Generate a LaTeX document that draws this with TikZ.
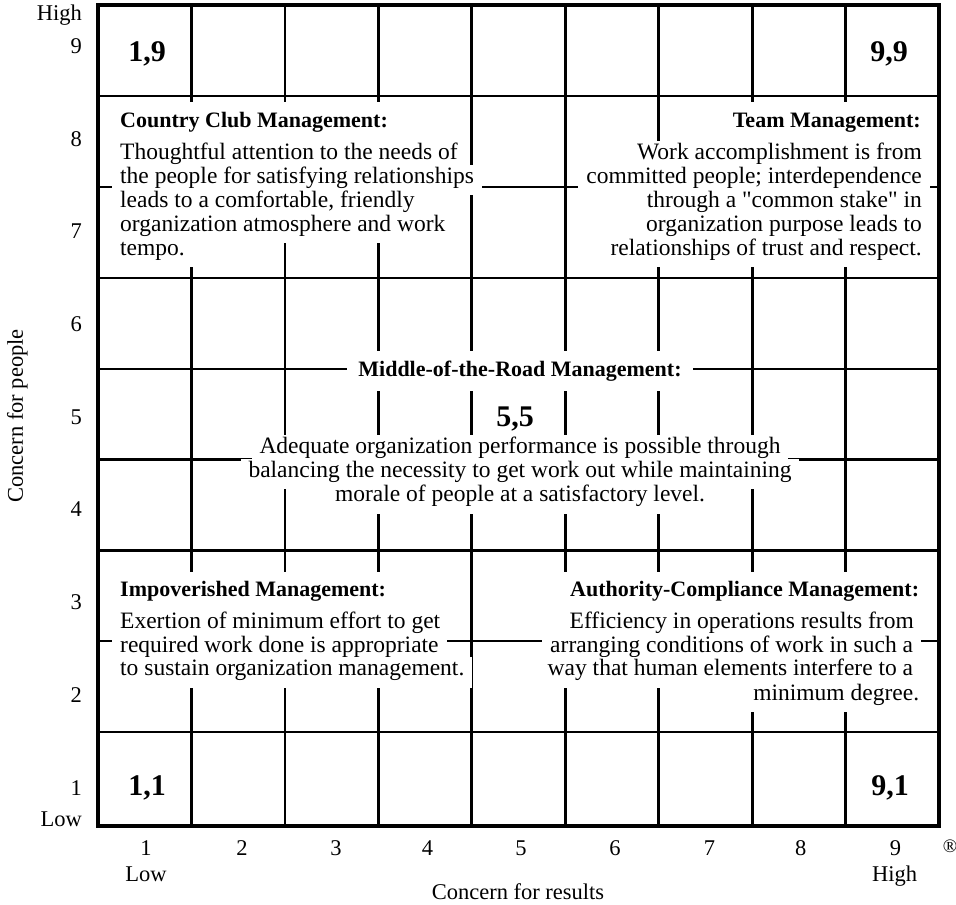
\documentclass[tikz,border=0pt]{standalone}
\usepackage{fontspec}
\setmainfont{Liberation Serif}
\begin{document}
\begin{tikzpicture}[x=1pt,y=-1pt,
  gridline/.style={line width=2.8pt},
  frameline/.style={line width=3.6pt},
  txt/.style={fill=white, inner xsep=8pt, inner ysep=0pt, text height=18.5pt, text depth=12pt,
    font=\fontsize{23.5}{26}\selectfont},
  head/.style={txt, text height=25pt, text depth=15pt, font=\fontsize{22}{24}\selectfont\bfseries},
  cellno/.style={inner sep=0pt, font=\fontsize{30}{32}\selectfont\bfseries},
  axis/.style={inner sep=0pt, font=\fontsize{22.5}{25}\selectfont}]

\useasboundingbox (0,0) rectangle (956,905);
\fill[white] (0,0) rectangle (956,905);

% the 9 x 9 grid
\foreach \gx in {191.4,284.9,378.3,471.8,565.2,658.6,752.1,845.5}
  \draw[gridline] (\gx,5) -- (\gx,826);
\foreach \gy in {96,187,278,369,459.5,550.5,641,732}
  \draw[gridline] (98,\gy) -- (939,\gy);
\draw[frameline] (98,5) rectangle (939,826);

% corner and centre positions
\node[cellno, anchor=base] (p19) at (147,61.7) {1,9};
\node[cellno, anchor=base] (p99) at (889,61.7) {9,9};
\node[cellno, anchor=base] (p11) at (147,795) {1,1};
\node[cellno, anchor=base] (p91) at (890,795) {9,1};
\node[cellno, anchor=base] (p55) at (515,426.7) {5,5};

% Country Club Management (1,9)
\node[head, anchor=base west] (ccH) at (112,127.3) {Country Club Management:};
\node[txt, anchor=base west] (cc1) at (112,159.3) {Thoughtful attention to the needs of};
\node[txt, anchor=base west] (cc2) at (112,183.3) {the people for satisfying relationships};
\node[txt, anchor=base west] (cc3) at (112,207.3) {leads to a comfortable, friendly};
\node[txt, anchor=base west] (cc4) at (112,231.3) {organization atmosphere and work};
\node[txt, anchor=base west] (cc5) at (112,255.3) {tempo.};

% Team Management (9,9)
\node[head, anchor=base east] (tmH) at (929,127.3) {Team Management:};
\node[txt, anchor=base east] (tm1) at (930,159.3) {Work accomplishment is from};
\node[txt, anchor=base east] (tm2) at (930,183.3) {committed people; interdependence};
\node[txt, anchor=base east] (tm3) at (930,207.3) {through a \textquotedbl common stake\textquotedbl\ in};
\node[txt, anchor=base east] (tm4) at (930,231.3) {organization purpose leads to};
\node[txt, anchor=base east] (tm5) at (930,255.3) {relationships of trust and respect.};

% Middle-of-the-Road Management (5,5)
\node[head, inner xsep=11pt, anchor=base] (mrH) at (520,376) {Middle-of-the-Road Management:};
\node[txt, anchor=base] (mr1) at (520,453) {Adequate organization performance is possible through};
\node[txt, anchor=base] (mr2) at (520,477) {balancing the necessity to get work out while maintaining};
\node[txt, anchor=base] (mr3) at (520,501.7) {morale of people at a satisfactory level.};

% Impoverished Management (1,1)
\node[head, anchor=base west] (imH) at (112,596.7) {Impoverished Management:};
\node[txt, anchor=base west] (im1) at (112,628.3) {Exertion of minimum effort to get};
\node[txt, anchor=base west] (im2) at (112,652.3) {required work done is appropriate};
\node[txt, anchor=base west] (im3) at (112,675.7) {to sustain organization management.};

% Authority-Compliance Management (9,1)
\node[head, anchor=base east] (acH) at (927.3,596.7) {Authority-Compliance Management:};
\node[txt, anchor=base east] (ac1) at (922,628.3) {Efficiency in operations results from};
\node[txt, anchor=base east] (ac2) at (921.3,652.3) {arranging conditions of work in such a};
\node[txt, anchor=base east] (ac3) at (921.3,675.7) {way that human elements interfere to a};
\node[txt, anchor=base east] (ac4) at (927.3,700) {minimum degree.};

% vertical axis
\node[axis, anchor=base east] (yHigh) at (82,20.7) {High};
\foreach \k/\by in {9/53.3,8/146.7,7/238,6/331.4,5/424,4/516.8,3/609.5,2/702.7,1/795}
  \node[axis, anchor=base east] (y\k) at (82,\by) {\k};
\node[axis, anchor=base east] (yLow) at (82,826.7) {Low};
\node[axis, rotate=90, anchor=base] (yTitle) at (23,416) {Concern for people};

% horizontal axis
\foreach \k/\bx in {1/146,2/242,3/336,4/427.5,5/521,6/615,7/709.6,8/800.7,9/895.6}
  \node[axis, anchor=base] (x\k) at (\bx,855) {\k};
\node[axis, anchor=base] (xLow) at (146,881.7) {Low};
\node[axis, anchor=base] (xHigh) at (894.5,881.7) {High};
\node[axis, anchor=base] (xTitle) at (518,899.5) {Concern for results};
\node[inner sep=0pt, anchor=base, font=\fontsize{19}{20}\selectfont] (reg) at (950,852) {\textregistered};
\end{tikzpicture}
\end{document}
